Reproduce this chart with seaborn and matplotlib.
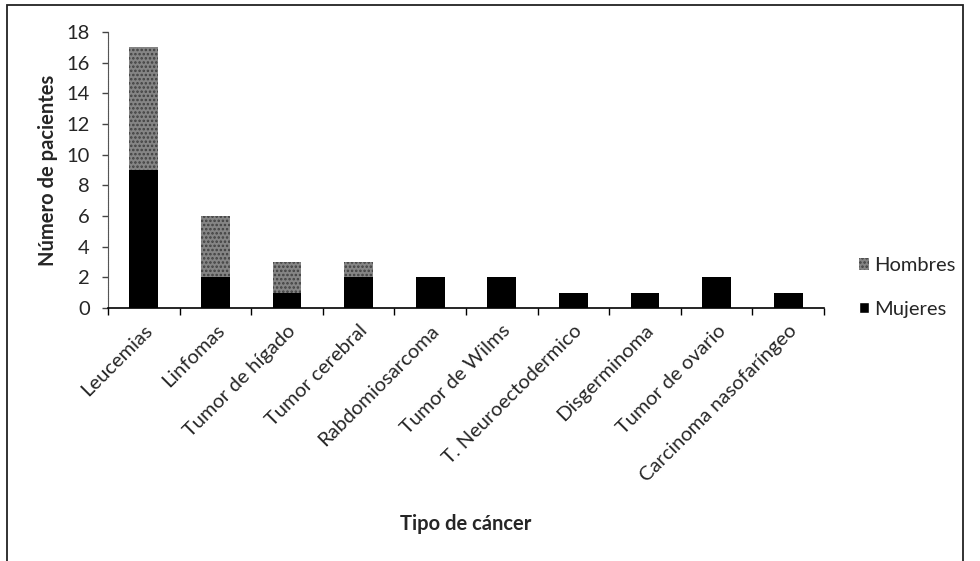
import matplotlib
matplotlib.use("Agg")
import matplotlib.pyplot as plt
from matplotlib.patches import Rectangle, Patch
import numpy as np
import pandas as pd
import seaborn as sns

categorias = ["Leucemias", "Linfomas", "Tumor de hígado", "Tumor cerebral",
              "Rabdomiosarcoma", "Tumor de Wilms", "T. Neuroectodermico",
              "Disgerminoma", "Tumor de ovario", "Carcinoma nasofaríngeo"]
mujeres = [9, 2, 1, 2, 2, 2, 1, 1, 2, 1]
hombres = [8, 4, 2, 1, 0, 0, 0, 0, 0, 0]
yticks = [0, 2, 4, 6, 8, 10, 12, 14, 16, 18]

sns.set_style("white")
plt.rcParams["font.family"] = ["Lato", "DejaVu Sans"]
plt.rcParams["hatch.linewidth"] = 1.2

df = pd.DataFrame({"cancer": categorias, "Mujeres": mujeres, "Hombres": hombres})
df["Total"] = df["Mujeres"] + df["Hombres"]

fig = plt.figure(figsize=(9.8, 5.61), dpi=100)
ax = fig.add_axes([108 / 980, 1 - 308 / 561, (824 - 108) / 980, (308 - 32) / 561])

grey = "#858585"
fs = 14.5
# stacked bars: full height in grey first, the women's part in black over it
sns.barplot(data=df, x="cancer", y="Total", color=grey, saturation=1,
            width=0.4, ax=ax, hatch="....", edgecolor="#404040", linewidth=0)
sns.barplot(data=df, x="cancer", y="Mujeres", color="black", saturation=1,
            width=0.4, ax=ax, linewidth=0)

ax.set_ylim(0, 18)
ax.set_xlim(-0.5, len(categorias) - 0.5)
ax.set_yticks(yticks)
ax.tick_params(axis="y", labelsize=fs, length=4, width=1, direction="out",
               color="#444", left=True, pad=9)
ax.set_xticks(range(len(categorias)))
ax.set_xticklabels(categorias, rotation=45, ha="right", rotation_mode="anchor",
                   fontsize=fs)
ax.tick_params(axis="x", length=0, pad=10)
ax.set_xticks(np.arange(-0.5, len(categorias), 1.0), minor=True)
ax.tick_params(axis="x", which="minor", length=5, width=1, direction="out",
               color="black", bottom=True)

for s in ["top", "right"]:
    ax.spines[s].set_visible(False)
ax.spines["left"].set_color("#555")
ax.spines["left"].set_linestyle((0, (1, 0.6)))
ax.spines["bottom"].set_color("black")
ax.spines["bottom"].set_linewidth(1.2)

ax.set_ylabel("Número de pacientes", fontsize=fs, fontweight="bold")
ax.yaxis.set_label_coords(-0.07, 0.5)
ax.set_xlabel("Tipo de cáncer", fontsize=fs, fontweight="bold")
ax.xaxis.set_label_coords(0.5, -0.745)

handles = [Patch(facecolor=grey, hatch="....", edgecolor="#404040", linewidth=0,
                 label="Hombres"),
           Patch(facecolor="black", label="Mujeres")]
ax.legend(handles=handles, loc="upper left", bbox_to_anchor=(1.035, 0.22),
          frameon=False, fontsize=fs, handlelength=0.5, handleheight=0.5,
          handletextpad=0.25, labelspacing=1.3, borderpad=0)

# frame around the whole chart
fig.patches.append(Rectangle((7 / 980, -0.01), (963 - 7) / 980, 1 - 5 / 561 + 0.01,
                             transform=fig.transFigure, fill=False,
                             edgecolor="#222", linewidth=1.3))

fig.savefig("out.png", dpi=100)
